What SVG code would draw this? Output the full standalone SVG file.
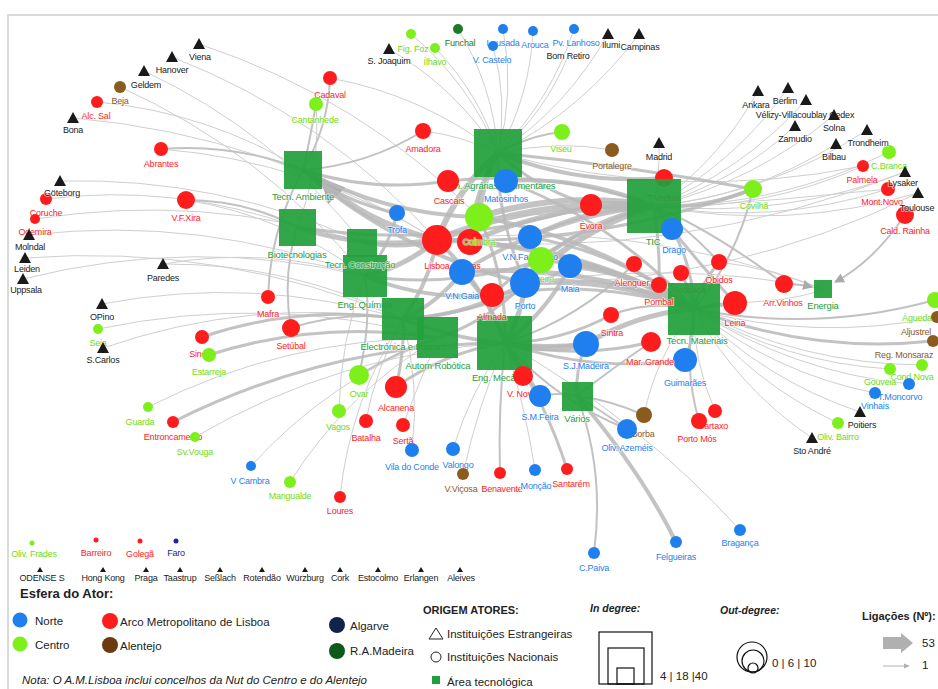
<svg xmlns="http://www.w3.org/2000/svg" width="938" height="689" viewBox="0 0 938 689">
<style>
.t{fill:none;stroke:#cfcfcf;stroke-width:1}
.m{fill:none;stroke:#c2c2c2;stroke-width:2}
.k{fill:none;stroke:#b9b9b9;stroke-opacity:.85}
.no{fill:#1f7fef}.ce{fill:#7df01c}.am{fill:#ff1c1c}.al{fill:#8b5a1e}.ma{fill:#1d7a2c}.fo{fill:#1a1a1a}
.sq{fill:#22a03c;fill-opacity:.93}
.l{font-family:"Liberation Sans",Arial,sans-serif;font-size:9px;letter-spacing:-0.2px;text-anchor:middle;paint-order:stroke;stroke:#fff;stroke-width:1.6px;stroke-opacity:.6}
.ls{font-size:9.5px}
.tno{fill:#1f7fef}.tce{fill:#6fdc14}.tam{fill:#ff1c1c}.tal{fill:#8b5a1e}.tma{fill:#1d7a2c}.tfo{fill:#222}.tsq{fill:#22a03c}
.lg{font-family:"Liberation Sans",Arial,sans-serif;font-size:11.5px;fill:#222}
.lb{font-family:"Liberation Sans",Arial,sans-serif;font-weight:bold;fill:#222}
</style>
<defs>
<path id="tri" d="M0,-6 L6,5 L-6,5Z" fill="#1a1a1a"/>
<path id="trs" d="M0,-3 L3,2 L-3,2Z" fill="#1a1a1a"/>
<marker id="ah" viewBox="0 0 10 10" refX="9" refY="5" markerWidth="4" markerHeight="4" orient="auto"><path d="M0,0 L10,5 L0,10Z" fill="#aaa"/></marker>
<marker id="ah2" viewBox="0 0 10 10" refX="9" refY="5" markerWidth="5" markerHeight="5" orient="auto"><path d="M0,0 L10,5 L0,10Z" fill="#aaa"/></marker>
</defs>
<rect x="0" y="0" width="938" height="689" fill="#fff"/>
<path d="M8,689 V15 H938" fill="none" stroke="#d9d9d9" stroke-width="2"/>

<g id="edges">
<path class="t" d="M199,44 Q360,97 479,217"/>
<path class="t" d="M172,57 Q326,117 437,240"/>
<path class="t" d="M144,71 Q274,132 362,242"/>
<path class="t" d="M120,87 Q265,152 365,276"/>
<path class="t" d="M97,102 Q208,112 303,170"/>
<path class="t" d="M73,118 Q270,135 437,240"/>
<path class="t" d="M161,149 Q310,161 437,240"/>
<path class="t" d="M60,181 Q219,177 362,242"/>
<path class="t" d="M46,199 Q175,183 297,227"/>
<path class="t" d="M186,200 Q285,216 365,276"/>
<path class="t" d="M35,219 Q202,193 362,242"/>
<path class="t" d="M29,235 Q202,215 365,276"/>
<path class="t" d="M25,258 Q221,243 403,319"/>
<path class="t" d="M23,279 Q194,236 365,276"/>
<path class="t" d="M163,264 Q265,246 365,276"/>
<path class="t" d="M163,264 Q290,263 403,319"/>
<path class="t" d="M102,304 Q254,275 403,319"/>
<path class="t" d="M98,329 Q269,293 438,338"/>
<path class="t" d="M103,348 Q250,297 403,319"/>
<path class="t" d="M148,407 Q285,338 438,338"/>
<path class="t" d="M195,437 Q339,353 505,343"/>
<path class="t" d="M251,466 Q329,380 438,338"/>
<path class="t" d="M290,482 Q347,392 438,338"/>
<path class="t" d="M340,497 Q350,400 403,319"/>
<path class="t" d="M330,78 Q423,95 498,153"/>
<path class="t" d="M316,104 Q321,168 297,227"/>
<path class="t" d="M389,49 Q456,88 498,153"/>
<path class="t" d="M411,34 Q469,83 498,153"/>
<path class="t" d="M435,48 Q479,93 498,153"/>
<path class="t" d="M458,29 Q493,86 498,153"/>
<path class="t" d="M503,29 Q515,92 498,153"/>
<path class="t" d="M493,46 Q508,100 498,153"/>
<path class="t" d="M533,31 Q530,96 498,153"/>
<path class="t" d="M574,29 Q551,100 498,153"/>
<path class="t" d="M568,56 Q545,113 498,153"/>
<path class="t" d="M608,34 Q567,107 498,153"/>
<path class="t" d="M639,34 Q583,110 498,153"/>
<path class="t" d="M423,131 Q460,135 498,153"/>
<path class="t" d="M659,143 Q660,175 654,206"/>
<path class="t" d="M612,150 Q560,140 498,153"/>
<path class="t" d="M758,91 Q720,160 654,206"/>
<path class="t" d="M788,88 Q735,163 654,206"/>
<path class="t" d="M806,100 Q743,171 654,206"/>
<path class="t" d="M834,115 Q755,182 654,206"/>
<path class="t" d="M795,126 Q734,183 654,206"/>
<path class="t" d="M867,130 Q770,194 654,206"/>
<path class="t" d="M836,144 Q752,197 654,206"/>
<path class="t" d="M889,152 Q778,207 654,206"/>
<path class="t" d="M863,166 Q763,211 654,206"/>
<path class="t" d="M905,172 Q784,219 654,206"/>
<path class="t" d="M888,189 Q773,226 654,206"/>
<path class="t" d="M918,193 Q788,231 654,206"/>
<path class="t" d="M905,172 Q679,262 437,240"/>
<path class="t" d="M918,193 Q732,285 525,283"/>
<path class="t" d="M863,166 Q679,203 498,153"/>
<path class="t" d="M888,189 Q690,210 479,217"/>
<path class="m" d="M935,300 Q816,333 694,309"/>
<path class="t" d="M937,317 Q815,342 694,309"/>
<path class="k" stroke-width="3" d="M933,341 Q810,354 694,309"/>
<path class="t" d="M922,365 Q801,364 694,309"/>
<path class="t" d="M890,369 Q785,363 694,309"/>
<path class="t" d="M909,384 Q792,372 694,309"/>
<path class="t" d="M875,393 Q774,373 694,309"/>
<path class="t" d="M860,412 Q765,380 694,309"/>
<path class="t" d="M838,423 Q752,383 694,309"/>
<path class="t" d="M812,438 Q738,388 694,309"/>
<path class="t" d="M740,530 Q640,420 505,343"/>
<path class="t" d="M644,415 Q656,356 694,309"/>
<path class="t" d="M715,411 Q692,357 694,309"/>
<path class="t" d="M412,450 Q420,385 403,319"/>
<path class="t" d="M453,449 Q470,392 505,343"/>
<path class="t" d="M463,474 Q478,405 505,343"/>
<path class="t" d="M535,470 Q525,405 505,343"/>
<path class="t" d="M339,411 Q340,340 365,276"/>
<path class="t" d="M366,421 Q375,370 403,319"/>
<path class="t" d="M403,425 Q420,380 438,338"/>
<path class="m" d="M594,553 Q605,470 577,396"/>
<path class="t" d="M735,303 Q800,300 823,289"/>
<path class="t" d="M719,262 Q770,268 823,289"/>
<path class="t" d="M437,240 Q636,218 823,289"/>
<path class="t" d="M525,283 Q680,260 823,289"/>
<path class="m" d="M359,375 Q372,320 365,276"/>
<path class="m" d="M161,149 Q235,143 303,170"/>
<path class="m" d="M186,200 Q245,200 297,227"/>
<path class="m" d="M268,297 Q270,230 303,170"/>
<path class="m" d="M291,328 Q282,277 297,227"/>
<path class="m" d="M291,328 Q346,310 403,319"/>
<path class="m" d="M330,78 Q328,128 303,170"/>
<path class="m" d="M316,104 Q310,140 303,170"/>
<path class="k" stroke-width="3" d="M173,422 Q330,343 505,343"/>
<path class="k" stroke-width="3" d="M202,337 Q300,304 403,319"/>
<path class="k" stroke-width="3" d="M209,355 Q321,319 438,338"/>
<path class="m" d="M905,215 Q873,262 835,282" marker-end="url(#ah2)"/>
<path class="m" d="M784,284 Q800,284 812,287" marker-end="url(#ah2)"/>
<path class="m" d="M784,284 Q710,229 654,206"/>
<path class="m" d="M719,262 Q690,230 654,206"/>
<path class="m" d="M753,189 Q738,256 694,309"/>
<path class="m" d="M500,473 Q498,410 505,343"/>
<path class="k" stroke-width="3" d="M567,469 Q545,400 505,343"/>
<path class="k" stroke-width="4" d="M676,542 Q640,470 577,396"/>
<path class="m" d="M627,429 Q556,401 505,343"/>
<path class="m" d="M699,421 Q683,366 694,309"/>
<path class="m" d="M634,264 Q579,319 505,343"/>
<path class="m" d="M359,375 Q400,350 438,338"/>
<path class="m" d="M611,315 Q650,300 694,309"/>
<path class="m" d="M562,132 Q530,135 498,153"/>
<path class="m" d="M423,131 Q368,165 303,170"/>
<path class="m" d="M627,429 Q600,410 577,396"/>
<path class="m" d="M644,415 Q610,400 577,396"/>
<path class="m" d="M540,396 Q558,392 577,396"/>
<path class="m" d="M651,342 Q610,370 577,396"/>
<path class="k" stroke-width="3" d="M586,344 Q575,370 577,396"/>
<path class="k" stroke-width="3" d="M540,396 Q525,370 505,343"/>
<path class="k" stroke-width="3" d="M523,376 Q512,360 505,343"/>
<path class="k" stroke-width="3" d="M396,387 Q445,352 505,343"/>
<path class="k" stroke-width="3" d="M396,387 Q405,350 403,319"/>
<path class="k" stroke-width="6" d="M437,240 Q362,222 322,180" marker-end="url(#ah)"/>
<path class="k" stroke-width="5" d="M437,240 Q365,250 297,227"/>
<path class="k" stroke-width="4" d="M437,240 Q400,250 362,242"/>
<path class="k" stroke-width="5" d="M437,240 Q405,267 365,276"/>
<path class="k" stroke-width="4" d="M437,240 Q429,283 403,319"/>
<path class="k" stroke-width="6" d="M437,240 Q457,189 498,153"/>
<path class="k" stroke-width="7" d="M437,240 Q541,197 654,206"/>
<path class="k" stroke-width="5" d="M437,240 Q574,244 694,309"/>
<path class="k" stroke-width="4" d="M437,240 Q483,283 505,343"/>
<path class="k" stroke-width="5" d="M470,242 Q558,202 654,206"/>
<path class="k" stroke-width="4" d="M470,242 Q473,194 498,153"/>
<path class="k" stroke-width="4" d="M470,242 Q590,249 694,309"/>
<path class="k" stroke-width="6" d="M479,217 Q481,183 498,153"/>
<path class="k" stroke-width="6" d="M479,217 Q565,190 654,206"/>
<path class="k" stroke-width="4" d="M479,217 Q385,215 303,170"/>
<path class="k" stroke-width="3" d="M479,217 Q507,277 505,343"/>
<path class="k" stroke-width="4" d="M479,217 Q598,237 694,309"/>
<path class="k" stroke-width="3" d="M448,181 Q554,169 654,206"/>
<path class="k" stroke-width="3" d="M448,181 Q374,193 303,170"/>
<path class="k" stroke-width="4" d="M506,181 Q583,176 654,206"/>
<path class="k" stroke-width="3" d="M506,181 Q615,222 694,309"/>
<path class="k" stroke-width="5" d="M462,272 Q582,263 694,309"/>
<path class="k" stroke-width="4" d="M462,272 Q438,303 403,319"/>
<path class="k" stroke-width="4" d="M462,272 Q492,302 505,343"/>
<path class="k" stroke-width="4" d="M462,272 Q550,216 654,206"/>
<path class="k" stroke-width="3" d="M492,295 Q595,278 694,309"/>
<path class="k" stroke-width="4" d="M492,295 Q426,301 365,276"/>
<path class="k" stroke-width="3" d="M492,295 Q562,231 654,206"/>
<path class="k" stroke-width="6" d="M525,283 Q580,229 654,206"/>
<path class="k" stroke-width="6" d="M525,283 Q612,276 694,309"/>
<path class="k" stroke-width="5" d="M525,283 Q522,315 505,343"/>
<path class="k" stroke-width="4" d="M525,283 Q468,316 403,319"/>
<path class="k" stroke-width="3" d="M525,283 Q496,215 498,153"/>
<path class="k" stroke-width="4" d="M525,283 Q401,254 303,170"/>
<path class="k" stroke-width="3" d="M525,283 Q488,321 438,338"/>
<path class="k" stroke-width="4" d="M541,260 Q591,219 654,206"/>
<path class="k" stroke-width="4" d="M541,260 Q623,266 694,309"/>
<path class="k" stroke-width="3" d="M541,260 Q455,289 365,276"/>
<path class="k" stroke-width="4" d="M530,237 Q588,207 654,206"/>
<path class="k" stroke-width="3" d="M530,237 Q621,253 694,309"/>
<path class="k" stroke-width="5" d="M570,266 Q637,273 694,309"/>
<path class="k" stroke-width="4" d="M570,266 Q547,312 505,343"/>
<path class="k" stroke-width="3" d="M570,266 Q493,313 403,319"/>
<path class="k" stroke-width="3" d="M591,205 Q538,190 498,153"/>
<path class="k" stroke-width="3" d="M591,205 Q620,212 654,206"/>
<path class="k" stroke-width="3" d="M591,205 Q447,251 297,227"/>
<path class="k" stroke-width="3" d="M672,229 Q693,266 694,309"/>
<path class="k" stroke-width="4" d="M664,178 Q578,185 498,153"/>
<path class="k" stroke-width="3" d="M611,315 Q561,342 505,343"/>
<path class="k" stroke-width="6" d="M586,344 Q545,353 505,343"/>
<path class="k" stroke-width="5" d="M586,344 Q636,314 694,309"/>
<path class="k" stroke-width="4" d="M586,344 Q491,353 403,319"/>
<path class="k" stroke-width="3" d="M651,342 Q578,360 505,343"/>
<path class="k" stroke-width="3" d="M659,285 Q660,245 654,206"/>
<path class="k" stroke-width="3" d="M397,213 Q345,203 303,170"/>
<path class="k" stroke-width="3" d="M397,213 Q389,248 365,276"/>
<path class="k" stroke-width="3" d="M685,360 Q695,335 694,309"/>
<path class="k" stroke-width="3" d="M685,360 Q593,373 505,343"/>
<path class="k" stroke-width="4" d="M735,303 Q715,305 694,309"/>
<path class="k" stroke-width="3" d="M735,303 Q683,245 654,206"/>
<path class="k" stroke-width="4" d="M753,189 Q705,209 654,206"/>
<path class="k" stroke-width="3" d="M753,189 Q625,165 498,153"/>
<path class="k" stroke-width="3" d="M753,189 Q600,245 437,240"/>
<path class="k" stroke-width="3" d="M681,273 Q690,290 694,309"/>
<path class="k" stroke-width="3" d="M719,262 Q700,285 694,309"/>
</g>

<g id="n-tvedras"><circle class="am" cx="664" cy="178" r="9"/><text class="l tam" x="664" y="201">T.Vedras</text></g>
<g id="n-alcobaca"><circle class="am" cx="681" cy="273" r="8"/><text class="l tam" x="688" y="293">Alcobaça</text></g>

<g id="a-ta"><rect class="sq" x="284" y="151" width="38" height="38"/><text class="l ls tsq" x="303" y="200">Tecn. Ambiente</text></g>
<g id="a-bio"><rect class="sq" x="279" y="209" width="37" height="37"/><text class="l ls tsq" x="297" y="258">Biotecnologias</text></g>
<g id="a-tc"><rect class="sq" x="347" y="229" width="30" height="28"/></g>
<g id="a-eq"><rect class="sq" x="343" y="255" width="44" height="42"/><text class="l ls tsq" x="365" y="308">Eng. Química</text></g>
<g id="a-tcl"><text class="l ls tsq" x="360" y="268">Tecn. Construção</text></g>
<g id="a-ei"><rect class="sq" x="382" y="298" width="42" height="42"/><text class="l ls tsq" x="403" y="350">Electrónica e Instrum</text></g>
<g id="a-ar"><rect class="sq" x="417" y="317" width="41" height="41"/><text class="l ls tsq" x="438" y="369">Autom Robótica</text></g>
<g id="a-em"><rect class="sq" x="477" y="316" width="55" height="54"/><text class="l ls tsq" x="502" y="381">Eng. Mecânica</text></g>
<g id="a-agr"><rect class="sq" x="474" y="129" width="48" height="48"/><text class="l ls tsq" x="498" y="189">Tecn. Agrárias e Alimentares</text></g>
<g id="a-tic"><rect class="sq" x="627" y="179" width="54" height="54"/><text class="l ls tsq" x="653" y="245">TIC</text></g>
<g id="a-tm"><rect class="sq" x="668" y="283" width="52" height="52"/><text class="l ls tsq" x="697" y="344">Tecn. Materiais</text></g>
<g id="a-en"><rect class="sq" x="814" y="280" width="18" height="18"/><text class="l ls tsq" x="823" y="309">Energia</text></g>
<g id="a-var"><rect class="sq" x="562" y="382" width="31" height="29"/><text class="l ls tsq" x="577" y="422">Vários</text></g>

<g id="n-beja"><circle class="al" cx="120" cy="87" r="6"/><text class="l tal" x="120" y="104">Beja</text></g>
<g id="n-alcsal"><circle class="am" cx="97" cy="102" r="6"/><text class="l tam" x="96" y="119">Alc. Sal</text></g>
<g id="n-abrantes"><circle class="am" cx="161" cy="149" r="7"/><text class="l tam" x="161" y="167">Abrantes</text></g>
<g id="n-coruche"><circle class="am" cx="46" cy="199" r="6"/><text class="l tam" x="46" y="216">Coruche</text></g>
<g id="n-vfxira"><circle class="am" cx="186" cy="200" r="9"/><text class="l tam" x="186" y="221">V.F.Xira</text></g>
<g id="n-odemira"><circle class="am" cx="35" cy="219" r="5"/><text class="l tam" x="35" y="235">Odemira</text></g>
<g id="n-seia"><circle class="ce" cx="98" cy="329" r="5"/><text class="l tce" x="98" y="346">Seia</text></g>
<g id="n-sines"><circle class="am" cx="202" cy="337" r="7"/><text class="l tam" x="200" y="357">Sines</text></g>
<g id="n-estarreja"><circle class="ce" cx="209" cy="355" r="7"/><text class="l tce" x="209" y="375">Estarreja</text></g>
<g id="n-guarda"><circle class="ce" cx="148" cy="407" r="5"/><text class="l tce" x="140" y="425">Guarda</text></g>
<g id="n-entronc"><circle class="am" cx="173" cy="422" r="6"/><text class="l tam" x="173" y="440">Entroncamento</text></g>
<g id="n-svvouga"><circle class="ce" cx="195" cy="437" r="5"/><text class="l tce" x="195" y="455">Sv.Vouga</text></g>
<g id="n-mafra"><circle class="am" cx="268" cy="297" r="7"/><text class="l tam" x="268" y="317">Mafra</text></g>
<g id="n-setubal"><circle class="am" cx="291" cy="328" r="9"/><text class="l tam" x="291" y="349">Setúbal</text></g>
<g id="n-vcambra"><circle class="no" cx="251" cy="466" r="5"/><text class="l tno" x="250" y="484">V Cambra</text></g>
<g id="n-mangualde"><circle class="ce" cx="290" cy="482" r="6"/><text class="l tce" x="290" y="499">Mangualde</text></g>
<g id="n-loures"><circle class="am" cx="340" cy="497" r="6"/><text class="l tam" x="340" y="514">Loures</text></g>
<g id="n-cadaval"><circle class="am" cx="330" cy="78" r="7"/><text class="l tam" x="330" y="98">Cadaval</text></g>
<g id="n-cantanhede"><circle class="ce" cx="316" cy="104" r="7"/><text class="l tce" x="315" y="123">Cantanhede</text></g>
<g id="n-figfoz"><circle class="ce" cx="411" cy="34" r="5"/><text class="l tce" x="413" y="52">Fig. Foz</text></g>
<g id="n-ilhavo"><circle class="ce" cx="435" cy="48" r="5"/><text class="l tce" x="435" y="65">Ílhavo</text></g>
<g id="n-funchal"><circle class="ma" cx="458" cy="29" r="5"/><text class="l tma" x="460" y="46">Funchal</text></g>
<g id="n-lousada"><circle class="no" cx="503" cy="29" r="5"/><text class="l tno" x="503" y="46">Lousada</text></g>
<g id="n-vcastelo"><circle class="no" cx="493" cy="46" r="5"/><text class="l tno" x="492" y="63">V. Castelo</text></g>
<g id="n-arouca"><circle class="no" cx="533" cy="31" r="5"/><text class="l tno" x="535" y="48">Arouca</text></g>
<g id="n-pvlanhoso"><circle class="no" cx="574" cy="29" r="5"/><text class="l tno" x="576" y="46">Pv. Lanhoso</text></g>
<g id="n-amadora"><circle class="am" cx="423" cy="131" r="8"/><text class="l tam" x="423" y="152">Amadora</text></g>
<g id="n-cascais"><circle class="am" cx="448" cy="181" r="11"/><text class="l tam" x="449" y="204">Cascais</text></g>
<g id="n-matosinhos"><circle class="no" cx="506" cy="181" r="12"/><text class="l tno" x="506" y="202">Matosinhos</text></g>
<g id="n-viseu"><circle class="ce" cx="562" cy="132" r="8"/><text class="l tce" x="561" y="152">Viseu</text></g>
<g id="n-portalegre"><circle class="al" cx="612" cy="150" r="7"/><text class="l tal" x="612" y="169">Portalegre</text></g>
<g id="n-drago"><circle class="no" cx="672" cy="229" r="11"/><text class="l tno" x="674" y="253">Drago</text></g>
<g id="n-evora"><circle class="am" cx="591" cy="205" r="11"/><text class="l tam" x="591" y="229">Évora</text></g>
<g id="n-covilha"><circle class="ce" cx="753" cy="189" r="9"/><text class="l tce" x="754" y="209">Covilhã</text></g>
<g id="n-trofa"><circle class="no" cx="397" cy="213" r="8"/><text class="l tno" x="397" y="233">Trofa</text></g>
<g id="n-lisboa"><circle class="am" cx="437" cy="240" r="15"/><text class="l tam" x="437" y="269">Lisboa</text></g>
<g id="n-oeiras"><circle class="am" cx="470" cy="242" r="13"/><text class="l tam" x="468" y="269">Oeiras</text></g>
<g id="n-coimbra"><circle class="ce" cx="479" cy="217" r="14"/><text class="l tce" x="479" y="245">Coimbra</text></g>
<g id="n-vngaia"><circle class="no" cx="462" cy="272" r="13"/><text class="l tno" x="462" y="299">V.N.Gaia</text></g>
<g id="n-almada"><circle class="am" cx="492" cy="295" r="12"/><text class="l tam" x="492" y="320">Almada</text></g>
<g id="n-vnfamalicao"><circle class="no" cx="530" cy="237" r="12"/><text class="l tno" x="530" y="260">V.N.Famalicão</text></g>
<g id="n-aveiro"><circle class="ce" cx="541" cy="260" r="13"/><text class="l tce" x="542" y="282">Aveiro</text></g>
<g id="n-porto"><circle class="no" cx="525" cy="283" r="15"/><text class="l tno" x="525" y="309">Porto</text></g>
<g id="n-maia"><circle class="no" cx="570" cy="266" r="12"/><text class="l tno" x="570" y="292">Maia</text></g>
<g id="n-alenquer"><circle class="am" cx="634" cy="264" r="8"/><text class="l tam" x="632" y="286">Alenquer</text></g>
<g id="n-pombal"><circle class="am" cx="659" cy="285" r="8"/><text class="l tam" x="659" y="305">Pombal</text></g>
<g id="n-obidos"><circle class="am" cx="719" cy="262" r="8"/><text class="l tam" x="719" y="283">Óbidos</text></g>
<g id="n-leiria"><circle class="am" cx="735" cy="303" r="12"/><text class="l tam" x="735" y="326">Leiria</text></g>
<g id="n-arrvinhos"><circle class="am" cx="784" cy="284" r="9"/><text class="l tam" x="783" y="306">Arr.Vinhos</text></g>
<g id="n-caldrainha"><circle class="am" cx="905" cy="215" r="9"/><text class="l tam" x="905" y="234">Cald. Rainha</text></g>
<g id="n-cbranca"><circle class="ce" cx="889" cy="152" r="7"/><text class="l tce" x="889" y="169">C.Branca</text></g>
<g id="n-palmela"><circle class="am" cx="863" cy="166" r="6"/><text class="l tam" x="862" y="183">Palmela</text></g>
<g id="n-montnovo"><circle class="am" cx="888" cy="189" r="7"/><text class="l tam" x="882" y="205">Mont.Novo</text></g>
<g id="n-agueda"><circle class="ce" cx="935" cy="300" r="8"/><text class="l tce" x="917" y="321">Águeda</text></g>
<g id="n-aljustrel"><circle class="al" cx="937" cy="317" r="6"/><text class="l tal" x="916" y="335">Aljustrel</text></g>
<g id="n-monsaraz"><circle class="al" cx="933" cy="341" r="6"/><text class="l tal" x="904" y="358">Reg. Monsaraz</text></g>
<g id="n-condnova"><circle class="ce" cx="922" cy="365" r="6"/><text class="l tce" x="912" y="380">Cond.Nova</text></g>
<g id="n-gouveia"><circle class="ce" cx="890" cy="369" r="6"/><text class="l tce" x="880" y="385">Gouveia</text></g>
<g id="n-tmoncorvo"><circle class="no" cx="909" cy="384" r="6"/><text class="l tno" x="900" y="400">T.Moncorvo</text></g>
<g id="n-vinhais"><circle class="no" cx="875" cy="393" r="6"/><text class="l tno" x="875" y="409">Vinhais</text></g>
<g id="n-olivbairro"><circle class="ce" cx="838" cy="423" r="6"/><text class="l tce" x="838" y="440">Oliv. Bairro</text></g>
<g id="n-guimaraes"><circle class="no" cx="685" cy="360" r="12"/><text class="l tno" x="685" y="386">Guimarães</text></g>
<g id="n-margrande"><circle class="am" cx="651" cy="342" r="10"/><text class="l tam" x="650" y="365">Mar. Grande</text></g>
<g id="n-sintra"><circle class="am" cx="611" cy="315" r="8"/><text class="l tam" x="612" y="336">Sintra</text></g>
<g id="n-sjmadeira"><circle class="no" cx="586" cy="344" r="13"/><text class="l tno" x="586" y="369">S.J.Madeira</text></g>
<g id="n-borba"><circle class="al" cx="644" cy="415" r="8"/><text class="l tal" x="643" y="437">Borba</text></g>
<g id="n-olivazemeis"><circle class="no" cx="627" cy="429" r="10"/><text class="l tno" x="627" y="451">Oliv. Azeméis</text></g>
<g id="n-cartaxo"><circle class="am" cx="715" cy="411" r="7"/><text class="l tam" x="713" y="429">Cartaxo</text></g>
<g id="n-portomos"><circle class="am" cx="699" cy="421" r="8"/><text class="l tam" x="697" y="442">Porto Mós</text></g>
<g id="n-vnovas"><circle class="am" cx="523" cy="376" r="10"/><text class="l tam" x="524" y="397">V. Novas</text></g>
<g id="n-smfeira"><circle class="no" cx="540" cy="396" r="11"/><text class="l tno" x="540" y="420">S.M.Feira</text></g>
<g id="n-ovar"><circle class="ce" cx="359" cy="375" r="10"/><text class="l tce" x="359" y="397">Ovar</text></g>
<g id="n-alcanena"><circle class="am" cx="396" cy="387" r="11"/><text class="l tam" x="396" y="411">Alcanena</text></g>
<g id="n-vagos"><circle class="ce" cx="339" cy="411" r="7"/><text class="l tce" x="338" y="430">Vagos</text></g>
<g id="n-batalha"><circle class="am" cx="366" cy="421" r="7"/><text class="l tam" x="366" y="441">Batalha</text></g>
<g id="n-serta"><circle class="am" cx="403" cy="425" r="7"/><text class="l tam" x="403" y="444">Sertã</text></g>
<g id="n-viladoconde"><circle class="no" cx="412" cy="450" r="7"/><text class="l tno" x="412" y="470">Vila do Conde</text></g>
<g id="n-valongo"><circle class="no" cx="453" cy="449" r="7"/><text class="l tno" x="458" y="468">Valongo</text></g>
<g id="n-vvicosa"><circle class="al" cx="463" cy="474" r="6"/><text class="l tal" x="461" y="492">V.Viçosa</text></g>
<g id="n-benavente"><circle class="am" cx="500" cy="473" r="6"/><text class="l tam" x="502" y="492">Benavente</text></g>
<g id="n-moncao"><circle class="no" cx="535" cy="470" r="6"/><text class="l tno" x="536" y="489">Monção</text></g>
<g id="n-santarem"><circle class="am" cx="567" cy="469" r="6"/><text class="l tam" x="571" y="487">Santarém</text></g>
<g id="n-cpaiva"><circle class="no" cx="594" cy="553" r="6"/><text class="l tno" x="594" y="571">C.Paiva</text></g>
<g id="n-felgueiras"><circle class="no" cx="676" cy="542" r="6"/><text class="l tno" x="676" y="560">Felgueiras</text></g>
<g id="n-braganca"><circle class="no" cx="740" cy="530" r="6"/><text class="l tno" x="740" y="546">Bragança</text></g>
<g id="n-olivfrades"><circle class="ce" cx="32" cy="543" r="2.5"/><text class="l tce" x="34" y="557">Oliv. Frades</text></g>
<g id="n-barreiro"><circle class="am" cx="96" cy="540" r="2.5"/><text class="l tam" x="96" y="556">Barreiro</text></g>
<g id="n-golega"><circle class="am" cx="140" cy="541" r="2.5"/><text class="l tam" x="140" y="557">Golegã</text></g>
<g id="n-faro"><circle cx="176" cy="541" r="2.5" fill="#22229a"/><text class="l" x="176" y="556" fill="#22229a">Faro</text></g>

<g id="f-viena"><use href="#tri" x="199" y="44"/><text class="l tfo" x="200" y="60">Viena</text></g>
<g id="f-hanover"><use href="#tri" x="172" y="57"/><text class="l tfo" x="172" y="73">Hanover</text></g>
<g id="f-geldem"><use href="#tri" x="144" y="71"/><text class="l tfo" x="146" y="88">Geldem</text></g>
<g id="f-bona"><use href="#tri" x="73" y="118"/><text class="l tfo" x="73" y="133">Bona</text></g>
<g id="f-goteborg"><use href="#tri" x="60" y="181"/><text class="l tfo" x="62" y="196">Göteborg</text></g>
<g id="f-molndal"><use href="#tri" x="29" y="235"/><text class="l tfo" x="30" y="250">Molndal</text></g>
<g id="f-leiden"><use href="#tri" x="25" y="258"/><text class="l tfo" x="27" y="272">Leiden</text></g>
<g id="f-uppsala"><use href="#tri" x="23" y="279"/><text class="l tfo" x="26" y="293">Uppsala</text></g>
<g id="f-paredes"><use href="#tri" x="163" y="264"/><text class="l tfo" x="163" y="281">Paredes</text></g>
<g id="f-opino"><use href="#tri" x="102" y="304"/><text class="l tfo" x="102" y="320">OPino</text></g>
<g id="f-scarlos"><use href="#tri" x="103" y="348"/><text class="l tfo" x="103" y="363">S.Carlos</text></g>
<g id="f-sjoaquim"><use href="#tri" x="389" y="49"/><text class="l tfo" x="389" y="64">S. Joaquim</text></g>
<g id="f-bomretiro"><text class="l tfo" x="568" y="59">Bom Retiro</text></g>
<g id="f-ilumi"><use href="#tri" x="608" y="34"/><text class="l tfo" x="611" y="48">Ilumi</text></g>
<g id="f-campinas"><use href="#tri" x="639" y="34"/><text class="l tfo" x="640" y="50">Campinas</text></g>
<g id="f-madrid"><use href="#tri" x="659" y="143"/><text class="l tfo" x="659" y="160">Madrid</text></g>
<g id="f-ankara"><use href="#tri" x="758" y="91"/><text class="l tfo" x="756" y="108">Ankara</text></g>
<g id="f-berlim"><use href="#tri" x="788" y="88"/><text class="l tfo" x="785" y="104">Berlim</text></g>
<g id="f-velizy"><use href="#tri" x="806" y="100"/><text class="l tfo" x="805" y="118">Vélizy-Villacoublay Cedex</text></g>
<g id="f-solna"><use href="#tri" x="834" y="115"/><text class="l tfo" x="834" y="131">Solna</text></g>
<g id="f-zamudio"><use href="#tri" x="795" y="126"/><text class="l tfo" x="795" y="142">Zamudio</text></g>
<g id="f-trondheim"><use href="#tri" x="867" y="130"/><text class="l tfo" x="868" y="146">Trondheim</text></g>
<g id="f-bilbau"><use href="#tri" x="836" y="144"/><text class="l tfo" x="834" y="160">Bilbau</text></g>
<g id="f-lysaker"><use href="#tri" x="905" y="172"/><text class="l tfo" x="903" y="186">Lysaker</text></g>
<g id="f-toulouse"><use href="#tri" x="918" y="193"/><text class="l tfo" x="917" y="211">Toulouse</text></g>
<g id="f-poitiers"><use href="#tri" x="860" y="412"/><text class="l tfo" x="862" y="428">Poitiers</text></g>
<g id="f-stoandre"><use href="#tri" x="812" y="438"/><text class="l tfo" x="812" y="454">Sto André</text></g>

<g id="f-row">
<use href="#trs" x="40" y="570"/><text class="l tfo" x="42" y="581">ODENSE S</text>
<use href="#trs" x="103" y="570"/><text class="l tfo" x="103" y="581">Hong Kong</text>
<use href="#trs" x="146" y="570"/><text class="l tfo" x="146" y="581">Praga</text>
<use href="#trs" x="180" y="570"/><text class="l tfo" x="180" y="581">Taastrup</text>
<use href="#trs" x="220" y="570"/><text class="l tfo" x="220" y="581">Seßlach</text>
<use href="#trs" x="262" y="570"/><text class="l tfo" x="262" y="581">Rotendão</text>
<use href="#trs" x="305" y="570"/><text class="l tfo" x="305" y="581">Würzburg</text>
<use href="#trs" x="340" y="570"/><text class="l tfo" x="340" y="581">Cork</text>
<use href="#trs" x="378" y="570"/><text class="l tfo" x="378" y="581">Estocolmo</text>
<use href="#trs" x="421" y="570"/><text class="l tfo" x="421" y="581">Erlangen</text>
<use href="#trs" x="460" y="570"/><text class="l tfo" x="461" y="581">Aleives</text>
</g>

<g id="legend">
<text class="lb" x="20" y="598" font-size="13">Esfera do Ator:</text>
<circle cx="20" cy="620" r="7.5" fill="#1f7fef"/><text class="lg" x="35" y="625">Norte</text>
<circle cx="20" cy="644" r="7.5" fill="#7df01c"/><text class="lg" x="35" y="649">Centro</text>
<circle cx="110" cy="621" r="8" fill="#ff1c1c"/><text class="lg" x="120" y="626">Arco Metropolitano de Lisboa</text>
<circle cx="110" cy="645" r="8" fill="#6b3a10"/><text class="lg" x="120" y="650">Alentejo</text>
<circle cx="337" cy="625" r="8" fill="#13234d"/><text class="lg" x="350" y="630">Algarve</text>
<circle cx="337" cy="651" r="8" fill="#0b5a1a"/><text class="lg" x="350" y="655">R.A.Madeira</text>
<text class="lg" x="22" y="684" font-style="italic" font-size="11">Nota: O A.M.Lisboa inclui concelhos da Nut do Centro e do Alentejo</text>
<text class="lb" x="423" y="614" font-size="11">ORIGEM ATORES:</text>
<path d="M436,628 L443,639 L429,639Z" fill="none" stroke="#222" stroke-width="1"/>
<text class="lg" x="447" y="638" font-size="10">Instituições  Estrangeiras</text>
<circle cx="436" cy="657" r="5" fill="none" stroke="#222" stroke-width="1"/>
<text class="lg" x="447" y="661" font-size="10">Instituições  Nacionais</text>
<rect x="432" y="676" width="8" height="8" fill="#22a03c"/>
<text class="lg" x="447" y="686" font-size="10">Área tecnológica</text>
<text class="lb" x="590" y="612" font-size="10.5" font-style="italic">In degree:</text>
<rect x="599" y="632" width="53" height="52" fill="none" stroke="#111" stroke-width="1.2"/>
<rect x="608" y="648" width="36" height="36" fill="none" stroke="#111" stroke-width="1.2"/>
<rect x="617" y="668" width="17" height="16" fill="none" stroke="#111" stroke-width="1.2"/>
<text class="lg" x="660" y="680" font-size="11">4 |  18 |40</text>
<text class="lb" x="720" y="614" font-size="10.5" font-style="italic" font-family="Liberation Serif">Out-degree:</text>
<circle cx="752" cy="657" r="15" fill="none" stroke="#111" stroke-width="1.2"/>
<circle cx="753" cy="661" r="11" fill="none" stroke="#111" stroke-width="1.2"/>
<circle cx="753" cy="668" r="5" fill="none" stroke="#111" stroke-width="1.2"/>
<text class="lg" x="772" y="667" font-size="11">0  | 6 | 10</text>
<text class="lb" x="862" y="620" font-size="11">Ligações (Nº):</text>
<path d="M883,637 H901 V633 L913,643 L901,653 V649 H883Z" fill="#b0b0b0"/>
<text class="lg" x="922" y="647" font-size="11">53</text>
<path d="M883,666 H905" stroke="#b0b0b0" stroke-width="1"/>
<path d="M904,663.5 L910,666 L904,668.5Z" fill="#b0b0b0"/>
<text class="lg" x="922" y="669" font-size="11">1</text>
</g>
</svg>
